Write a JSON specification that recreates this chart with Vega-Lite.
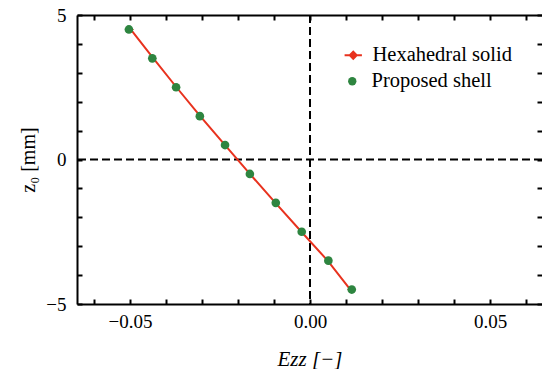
{
  "$schema": "https://vega.github.io/schema/vega-lite/v6.json",
  "width": 465,
  "height": 289,
  "autosize": {"type": "none"},
  "padding": {"left": 77, "top": 15, "right": 0, "bottom": 65},
  "background": "white",
  "datasets": {
    "pts": [
      {"series": "Hexahedral solid", "z": 4.5, "E": -0.0498},
      {"series": "Hexahedral solid", "z": 3.5, "E": -0.0435},
      {"series": "Hexahedral solid", "z": 2.5, "E": -0.0371},
      {"series": "Hexahedral solid", "z": 1.5, "E": -0.0305},
      {"series": "Hexahedral solid", "z": 0.5, "E": -0.0236},
      {"series": "Hexahedral solid", "z": -0.5, "E": -0.0167},
      {"series": "Hexahedral solid", "z": -1.5, "E": -0.0096},
      {"series": "Hexahedral solid", "z": -2.5, "E": -0.0024},
      {"series": "Hexahedral solid", "z": -3.5, "E": 0.0049},
      {"series": "Hexahedral solid", "z": -4.5, "E": 0.0112},
      {"series": "Proposed shell", "z": 4.5, "E": -0.0503},
      {"series": "Proposed shell", "z": 3.5, "E": -0.0438},
      {"series": "Proposed shell", "z": 2.5, "E": -0.0372},
      {"series": "Proposed shell", "z": 1.5, "E": -0.0306},
      {"series": "Proposed shell", "z": 0.5, "E": -0.0236},
      {"series": "Proposed shell", "z": -0.5, "E": -0.0167},
      {"series": "Proposed shell", "z": -1.5, "E": -0.0095},
      {"series": "Proposed shell", "z": -2.5, "E": -0.0023},
      {"series": "Proposed shell", "z": -3.5, "E": 0.0051},
      {"series": "Proposed shell", "z": -4.5, "E": 0.0116}
    ]
  },
  "resolve": {"axis": {"x": "independent", "y": "independent"}},
  "layer": [
    {
      "data": {"values": [{"ref": 0}]},
      "mark": {"type": "rule", "color": "black", "strokeWidth": 2, "strokeDash": [8, 4]},
      "encoding": {
        "x": {"field": "ref", "type": "quantitative", "scale": {"domain": [-0.06472, 0.06444], "nice": false, "zero": false}, "axis": null}
      }
    },
    {
      "data": {"values": [{"ref": 0}]},
      "mark": {"type": "rule", "color": "black", "strokeWidth": 2, "strokeDash": [8, 4]},
      "encoding": {
        "y": {"field": "ref", "type": "quantitative", "scale": {"domain": [-5, 5], "nice": false, "zero": false}, "axis": null}
      }
    },
    {
      "data": {"name": "pts"},
      "transform": [{"filter": "datum.series === 'Hexahedral solid'"}],
      "mark": {"type": "line", "color": "#e8321e", "strokeWidth": 2},
      "encoding": {
        "x": {
          "field": "E", "type": "quantitative",
          "scale": {"domain": [-0.06472, 0.06444], "nice": false, "zero": false},
          "axis": {
            "orient": "bottom",
            "values": [-0.06, -0.05, -0.04, -0.03, -0.02, -0.01, 0, 0.01, 0.02, 0.03, 0.04, 0.05, 0.06],
            "format": ".2f",
            "labelExpr": "abs(round(datum.value*100)) % 5 === 0 ? datum.label : ''",
            "labelPadding": 13,
            "title": "Ezz [−]",
            "titleBaseline": "alphabetic",
            "titleY": 61,
            "titleFontSize": 21,
            "titleFontStyle": "italic"
          }
        },
        "y": {
          "field": "z", "type": "quantitative",
          "scale": {"domain": [-5, 5], "nice": false, "zero": false},
          "axis": {
            "orient": "left",
            "values": [-5, -4, -3, -2, -1, 0, 1, 2, 3, 4, 5],
            "format": "d",
            "labelExpr": "datum.value % 5 === 0 ? datum.label : ''",
            "labelPadding": 16,
            "title": "z₀ [mm]",
            "titleBaseline": "alphabetic",
            "titleX": -43,
            "titleAngle": 270
          }
        },
        "order": {"field": "z", "sort": "descending"}
      }
    },
    {
      "data": {"name": "pts"},
      "transform": [{"filter": "datum.series === 'Hexahedral solid'"}],
      "mark": {"type": "point", "shape": "diamond", "filled": true, "size": 25, "opacity": 1, "fill": "#e8321e", "strokeWidth": 1},
      "encoding": {
        "x": {
          "field": "E", "type": "quantitative",
          "scale": {"domain": [-0.06472, 0.06444], "nice": false, "zero": false},
          "axis": {
            "orient": "top",
            "values": [-0.06, -0.05, -0.04, -0.03, -0.02, -0.01, 0, 0.01, 0.02, 0.03, 0.04, 0.05, 0.06],
            "labels": false,
            "title": null
          }
        },
        "y": {
          "field": "z", "type": "quantitative",
          "scale": {"domain": [-5, 5], "nice": false, "zero": false},
          "axis": {
            "orient": "right",
            "values": [-5, -4, -3, -2, -1, 0, 1, 2, 3, 4, 5],
            "labels": false,
            "domain": false,
            "title": null
          }
        },
        "stroke": {
          "field": "series", "type": "nominal",
          "scale": {"domain": ["Hexahedral solid"], "range": ["#e8321e"]},
          "legend": {
            "title": null,
            "orient": "none",
            "legendX": 266,
            "legendY": 30,
            "padding": 0,
            "symbolType": "M-1,0H1M0,-0.4L0.4,0L0,0.4L-0.4,0Z",
            "symbolSize": 300,
            "symbolStrokeWidth": 2,
            "symbolStrokeColor": "#e8321e",
            "symbolFillColor": "#e8321e",
            "symbolOpacity": 1,
            "labelOffset": 9,
            "labelFont": "Liberation Serif",
            "labelFontSize": 20.5,
            "labelColor": "black"
          }
        }
      }
    },
    {
      "data": {"name": "pts"},
      "transform": [{"filter": "datum.series === 'Proposed shell'"}],
      "mark": {"type": "point", "shape": "circle", "filled": true, "size": 75, "opacity": 1},
      "encoding": {
        "x": {"field": "E", "type": "quantitative", "scale": {"domain": [-0.06472, 0.06444], "nice": false, "zero": false}, "axis": null},
        "y": {"field": "z", "type": "quantitative", "scale": {"domain": [-5, 5], "nice": false, "zero": false}, "axis": null},
        "fill": {
          "field": "series", "type": "nominal",
          "scale": {"domain": ["Proposed shell"], "range": ["#2e8540"]},
          "legend": {
            "title": null,
            "orient": "none",
            "legendX": 265,
            "legendY": 56,
            "padding": 0,
            "symbolType": "circle",
            "symbolSize": 70,
            "symbolStrokeWidth": 0,
            "symbolOpacity": 1,
            "labelOffset": 9,
            "labelFont": "Liberation Serif",
            "labelFontSize": 20.5,
            "labelColor": "black"
          }
        }
      }
    }
  ],
  "config": {
    "view": {"stroke": null},
    "axis": {
      "grid": false,
      "domainColor": "black",
      "domainWidth": 2,
      "tickColor": "black",
      "tickWidth": 2,
      "tickSize": -5,
      "labelFont": "Liberation Serif",
      "labelFontSize": 19,
      "labelColor": "black",
      "labelFlush": false,
      "labelOverlap": false,
      "titleFont": "Liberation Serif",
      "titleFontSize": 20,
      "titleFontWeight": "normal",
      "titleColor": "black"
    }
  }
}
